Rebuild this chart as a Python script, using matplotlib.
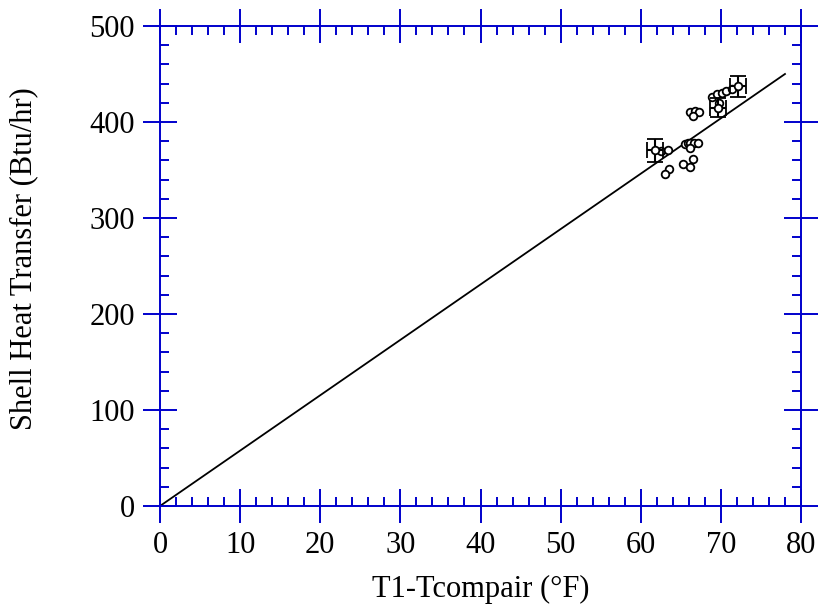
import matplotlib
matplotlib.use("Agg")
import matplotlib.pyplot as plt
from matplotlib.ticker import MultipleLocator

# Measured shell heat transfer vs. temperature difference
dt_f = [62.5, 63.4, 63.5, 63.0,
        65.5, 65.9, 66.2, 66.7, 67.1, 66.2,
        65.3, 66.1, 66.5,
        66.2, 66.8, 67.3, 66.5,
        68.9, 69.5, 70.1, 70.7, 71.4, 69.8]
q_btuhr = [369.8, 370.5, 350.7, 345.5,
           376.8, 377.8, 378.4, 377.8, 378.4, 372.6,
           356.0, 353.5, 361.5,
           410.7, 411.8, 410.4, 406.6,
           426.4, 428.9, 430.5, 432.3, 434.0, 420.0]

# Representative points with uncertainty
err_x = [61.8, 69.6, 72.1]
err_y = [370.8, 415.0, 437.0]
err_dx = [1.0, 1.0, 1.0]
err_dy = [12.0, 10.0, 11.0]

# Fitted line through the origin
fit_x = [0.0, 78.0]
fit_y = [0.0, 450.0]

axis_blue = "#0000CC"
serif = "Liberation Serif"

fig = plt.figure(figsize=(8.2, 6.11), dpi=100)
ax = fig.add_axes([160 / 820, 105 / 611, 641 / 820, 480 / 611])

ax.plot(fit_x, fit_y, color="black", lw=1.3, zorder=2)
ax.plot(dt_f, q_btuhr, linestyle="none", marker="o", ms=5.5, mfc="white",
        mec="black", mew=1.3, zorder=3)
ax.errorbar(err_x, err_y, xerr=err_dx, yerr=err_dy, fmt="o", ms=5.5,
            mfc="white", mec="black", mew=1.3, ecolor="black", elinewidth=1.5,
            capsize=6, capthick=1.5, zorder=4)

ax.set_xlim(0, 80)
ax.set_ylim(0, 500)
ax.xaxis.set_major_locator(MultipleLocator(10))
ax.xaxis.set_minor_locator(MultipleLocator(2))
ax.yaxis.set_major_locator(MultipleLocator(100))
ax.yaxis.set_minor_locator(MultipleLocator(20))

for sp in ax.spines.values():
    sp.set_color(axis_blue)
    sp.set_linewidth(1.4)

ax.tick_params(which="major", direction="inout", length=25, width=1.4,
               color=axis_blue, top=True, right=True, labelsize=22,
               labelcolor="black", pad=5.5)
ax.tick_params(which="minor", direction="in", length=6.5, width=1.4,
               color=axis_blue, top=True, right=True)

for lbl in ax.get_xticklabels() + ax.get_yticklabels():
    lbl.set_family(serif)

ax.set_xlabel("T1-Tcompair (°F)", family=serif, fontsize=22)
ax.set_ylabel("Shell Heat Transfer (Btu/hr)", family=serif, fontsize=22)
ax.xaxis.set_label_coords(0.5, -0.144)
ax.yaxis.set_label_coords(-0.190, 0.515)

fig.savefig("out.png", dpi=100)
